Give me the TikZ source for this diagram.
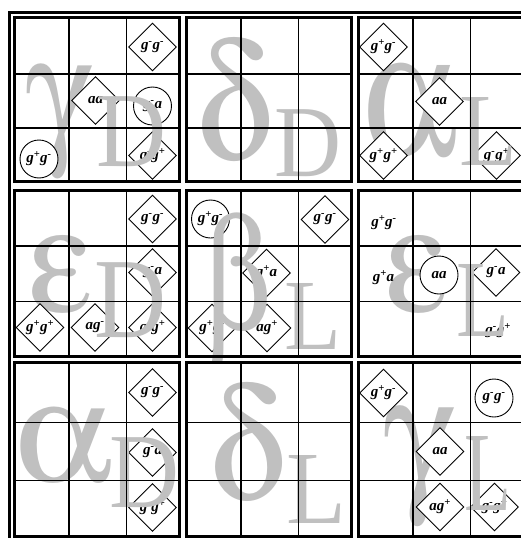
\documentclass[tikz,border=0pt]{standalone}
\usepackage{fontspec}
\setmainfont{Liberation Serif}
\usepackage[Symbol]{upgreek}
\usetikzlibrary{shapes.geometric}
\definecolor{symgray}{RGB}{192,192,192}
\newcommand{\gplus}{g\textsuperscript{+}}
\newcommand{\gminus}{g\textsuperscript{-}}
% big grey symbol squeezed into its box (width, total height)
\newcommand{\bigsym}[3]{\resizebox*{#1pt}{#2pt}{#3}}
\begin{document}
\begin{tikzpicture}[x=1pt, y=-1pt, font=\fontsize{15}{15}\selectfont\bfseries\itshape,
  dmd/.style={draw, fill=white, diamond, minimum width=48pt, minimum height=48pt, inner sep=0pt, line width=0.9pt},
  cir/.style={draw, fill=white, circle, minimum size=38pt, inner sep=0pt, line width=0.9pt},
  lbl/.style={inner sep=0pt},
  grk/.style={text=symgray, inner sep=0pt, font=\normalfont},
  panel/.style={line width=3pt},
  cellline/.style={line width=1.1pt}]
\fill[white] (0,0) rectangle (520,538);
\useasboundingbox (0,0) rectangle (520,538);
% grey greek letters (under the markers)
\node[grk] (gam1) at (60,122.5) {\bigsym{66}{115}{$\upgamma$}};
\node[grk] (del1) at (234.5,101.5) {\bigsym{75}{123}{$\updelta$}};
\node[grk] (alp1) at (410.5,111.5) {\bigsym{95}{93}{$\upalpha$}};
\node[grk] (eps1) at (61,276) {\bigsym{62}{78}{$\upepsilon$}};
\node[grk] (eps2) at (417,276) {\bigsym{60}{78}{$\upepsilon$}};
\node[grk] (alp2) at (64,445.5) {\bigsym{98}{75}{$\upalpha$}};
\node[grk] (del2) at (247.5,444) {\bigsym{75}{118}{$\updelta$}};
\node[grk] (gam2) at (420,467.5) {\bigsym{70}{121}{$\upgamma$}};
% gamma_D
\node[dmd] (gD13) at (152.5,47) {\gminus\gminus};
\node[dmd] (gD22) at (95.5,100.5) {aa};
\node[cir] (gD23) at (152.5,106) {\gminus a};
\node[cir] (gD31) at (39,159) {\gplus\gminus};
\node[dmd] (gD33) at (152.5,155.5) {\gminus\gplus};
% alpha_L
\node[dmd] (aL11) at (383.5,47) {\gplus\gminus};
\node[dmd] (aL22) at (439.5,101.5) {aa};
\node[dmd] (aL31) at (383.5,155.5) {\gplus\gplus};
\node[dmd] (aL33) at (496.5,155.5) {\gminus\gplus};
% epsilon_D
\node[dmd] (eD13) at (152.5,219) {\gminus\gminus};
\node[dmd] (eD23) at (152.5,272.5) {\gminus a};
\node[dmd] (eD31) at (40,327.5) {\gplus\gplus};
\node[dmd] (eD32) at (95,327.5) {a\gminus};
\node[dmd] (eD33) at (152.5,327.5) {\gminus\gplus};
% beta_L
\node[cir] (bL11) at (210.5,219) {\gplus\gminus};
\node[dmd] (bL13) at (325,219.5) {\gminus\gminus};
\node[dmd] (bL22) at (266.5,273) {\gplus a};
\node[dmd] (bL31) at (212,328) {\gplus\gminus};
\node[dmd] (bL32) at (267,328) {a\gplus};
% epsilon_L
\node[lbl] (eL11) at (384,223) {\gplus\gminus};
\node[lbl] (eL21) at (383.5,278) {\gplus a};
\node[cir] (eL22) at (439,275) {aa};
\node[dmd] (eL23) at (496,272.5) {\gminus a};
\node[lbl] (eL33) at (498,331) {\gminus\gplus};
% alpha_D
\node[dmd] (aD13) at (152.5,392.5) {\gminus\gminus};
\node[dmd] (aD23) at (152.5,452.5) {\gminus a};
\node[dmd] (aD33) at (152.5,507.5) {\gminus\gplus};
% gamma_L
\node[dmd] (gL11) at (383.5,393) {\gplus\gminus};
\node[cir] (gL13) at (494,398) {\gminus\gminus};
\node[dmd] (gL22) at (440,451.5) {aa};
\node[dmd] (gL32) at (440,507) {a\gplus};
\node[dmd] (gL33) at (494.5,507) {\gminus\gplus};
% beta and the D / L subscripts lie over the markers
\node[grk] (bet1) at (238.5,290) {\bigsym{67}{150}{$\upbeta$}};
\node[grk] (gam1s) at (132,132) {\bigsym{70}{70}{D}};
\node[grk] (del1s) at (308.5,143.5) {\bigsym{67}{67}{D}};
\node[grk] (alp1s) at (489,131) {\bigsym{58}{68}{L}};
\node[grk] (eps1s) at (131,300.5) {\bigsym{72}{75}{D}};
\node[grk] (bet1s) at (313.5,316.5) {\bigsym{57}{66}{L}};
\node[grk] (eps2s) at (483.5,300) {\bigsym{53}{72}{L}};
\node[grk] (alp2s) at (145,473) {\bigsym{70}{70}{D}};
\node[grk] (del2s) at (317,489) {\bigsym{60}{68}{L}};
\node[grk] (gam2s) at (488.5,473.5) {\bigsym{47}{74}{L}};
% panels and cells
\foreach \xa/\xb in {14.5/179,186.5/351,358.5/523}
  \foreach \ya/\yb/\yc/\yd in {17.5/181.5/74/128,190/356.5/246/301.7,362.5/536/422.7/480.7}{
    \draw[cellline] (\xa+54.5,\ya) -- (\xa+54.5,\yb) (\xa+112,\ya) -- (\xa+112,\yb)
      (\xa,\yc) -- (\xb,\yc) (\xa,\yd) -- (\xb,\yd);
    \draw[panel] (\xa,\ya) rectangle (\xb,\yb);
  }
\draw[panel] (9.5,12.5) rectangle (528,541);
\end{tikzpicture}
\end{document}
